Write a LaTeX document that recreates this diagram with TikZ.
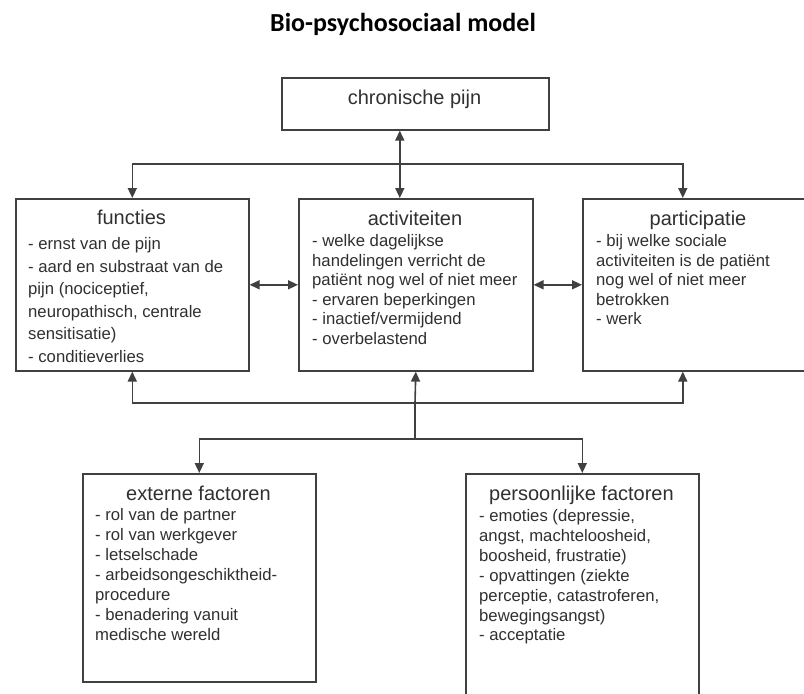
\documentclass[tikz,border=0pt]{standalone}
\usepackage{fontspec}
\setmainfont{Liberation Sans}
\newfontfamily\titlefont{Carlito}
\usetikzlibrary{arrows.meta}
\definecolor{ln}{HTML}{404040}
\definecolor{tx}{HTML}{303030}
\newcommand\blines[2]{\fontsize{16.7}{#1}\selectfont\begin{tabular}[t]{@{}l@{}}#2\end{tabular}}
\tikzset{
  bx/.style={draw=ln, line width=1.6pt, inner sep=0pt, anchor=north west},
  hd/.style={font=\fontsize{20}{24}\selectfont, text=tx, anchor=base, inner sep=0pt},
  bd/.style={text=tx, anchor=base west, inner sep=0pt},
  con/.style={draw=ln, line width=1.6pt},
  arr/.style={con, -{Triangle[length=10pt,width=9pt]}},
  darr/.style={con, {Triangle[length=10pt,width=9pt]}-{Triangle[length=10pt,width=9pt]}}
}
\begin{document}
\begin{tikzpicture}[x=1pt,y=-1pt]
\clip (0,0) rectangle (804,694);
\fill[white] (0,0) rectangle (804,694);

\node[font=\titlefont\bfseries\fontsize{26}{30}\selectfont, text=black] (title) at (403,24) {Bio-psychosociaal model};

% boxes
\node[bx, minimum width=267pt, minimum height=52pt] (chron) at (281,77) {};
\node[hd] (chront) at (414.5,104) {chronische pijn};

\node[bx, minimum width=233pt, minimum height=172pt] (fun) at (15,198) {};
\node[bx, minimum width=234pt, minimum height=172pt] (act) at (298,198) {};
\node[bx, minimum width=232pt, minimum height=172pt] (par) at (582,198) {};
\node[bx, minimum width=233pt, minimum height=208pt] (ext) at (82,473) {};
\node[bx, minimum width=233pt, minimum height=240pt] (per) at (465,473) {};

% headings
\node[hd] (funh) at (131.5,224) {functies};
\node[hd] (acth) at (415,225) {activiteiten};
\node[hd] (parh) at (698,225) {participatie};
\node[hd] (exth) at (198.5,500) {externe factoren};
\node[hd] (perh) at (581.5,500) {persoonlijke factoren};

% bodies
\node[bd] (funb) at (28,249.5) {\blines{22.6}{- ernst van de pijn\\- aard en substraat van de\\pijn (nociceptief,\\neuropathisch, centrale\\sensitisatie)\\- conditieverlies}};
\node[bd] (actb) at (312,246.5) {\blines{19.5}{- welke dagelijkse\\handelingen verricht de\\patiënt nog wel of niet meer\\- ervaren beperkingen\\- inactief/vermijdend\\- overbelastend}};
\node[bd] (parb) at (596,246.5) {\blines{19.6}{- bij welke sociale\\activiteiten is de patiënt\\nog wel of niet meer\\betrokken\\- werk}};
\node[bd] (extb) at (95,520.5) {\blines{20}{- rol van de partner\\- rol van werkgever\\- letselschade\\- arbeidsongeschiktheid-\\procedure\\- benadering vanuit\\medische wereld}};
\node[bd] (perb) at (479,521.5) {\blines{19.9}{- emoties (depressie,\\angst, machteloosheid,\\boosheid, frustratie)\\- opvattingen (ziekte\\perceptie, catastroferen,\\bewegingsangst)\\- acceptatie}};

% connectors top
\coordinate (tb) at (399,164);
\draw[darr] ([xshift=-15.5pt]chron.south) -- ([xshift=-16pt]act.north);
\draw[arr] (tb) -| (fun.north);
\draw[arr] (tb) -| ([xshift=-16pt]par.north);

% horizontal double arrows
\draw[darr] (fun.east) -- (act.west);
\draw[darr] (act.east) -- (par.west);

% connectors bottom
\coordinate (bb) at (415,403);
\coordinate (lb) at (415,439);
\draw[arr] (bb) -- (act.south);
\draw[arr] (bb) -| (fun.south);
\draw[arr] (bb) -| ([xshift=-16pt]par.south);
\draw[con] (bb) -- (lb);
\draw[arr] (lb) -| (ext.north);
\draw[arr] (lb) -| (per.north);
\end{tikzpicture}
\end{document}
